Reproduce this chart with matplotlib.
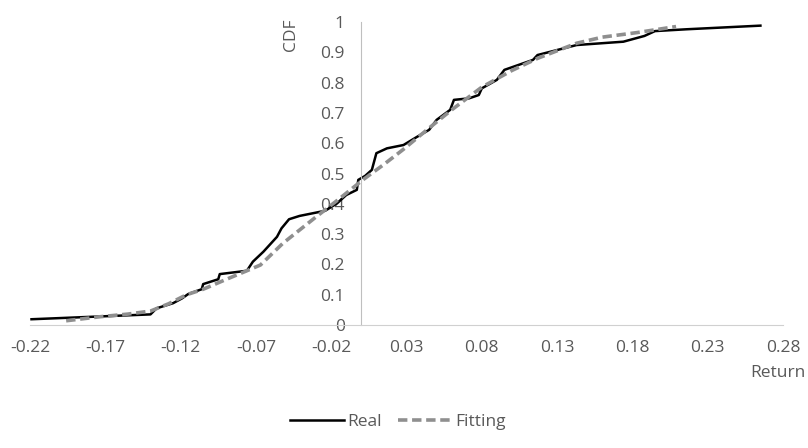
import matplotlib.pyplot as plt

plt.rcParams['font.family'] = ['Open Sans', 'DejaVu Sans']

real_x = [-0.219, -0.140, -0.136, -0.125, -0.119, -0.115, -0.106, -0.105, -0.095, -0.094,
          -0.076, -0.072, -0.065, -0.056, -0.053, -0.048, -0.041, -0.024, -0.016, -0.010,
          -0.003, -0.002, 0.0025, 0.007, 0.010, 0.017, 0.028, 0.037, 0.045, 0.050,
          0.059, 0.0615, 0.0715, 0.078, 0.080, 0.090, 0.095, 0.114, 0.117, 0.143,
          0.174, 0.188, 0.195, 0.216, 0.265]
real_y = [0.019, 0.035, 0.055, 0.072, 0.088, 0.102, 0.118, 0.135, 0.151, 0.168,
          0.179, 0.209, 0.242, 0.291, 0.319, 0.349, 0.360, 0.377, 0.402, 0.429,
          0.446, 0.479, 0.492, 0.512, 0.567, 0.583, 0.594, 0.621, 0.644, 0.677,
          0.710, 0.743, 0.748, 0.759, 0.781, 0.809, 0.842, 0.875, 0.891, 0.924,
          0.935, 0.954, 0.970, 0.976, 0.988]

# Fitted CDF
fit_x = [-0.196, -0.174, -0.155, -0.140, -0.128, -0.116, -0.105, -0.090, -0.076, -0.067,
         -0.052, -0.030, -0.015, 0.001, 0.015, 0.028, 0.045, 0.060, 0.080, 0.100,
         0.117, 0.130, 0.143, 0.160, 0.183, 0.209]
fit_y = [0.014, 0.027, 0.036, 0.046, 0.070, 0.100, 0.118, 0.150, 0.179, 0.198,
         0.270, 0.357, 0.415, 0.479, 0.530, 0.580, 0.650, 0.710, 0.785, 0.840,
         0.880, 0.905, 0.930, 0.950, 0.965, 0.985]

x_ticks = [-0.22, -0.17, -0.12, -0.07, -0.02, 0.03, 0.08, 0.13, 0.18, 0.23, 0.28]
y_ticks = [0, 0.1, 0.2, 0.3, 0.4, 0.5, 0.6, 0.7, 0.8, 0.9, 1]

text_color = '#595959'
fs = 12.5

fig = plt.figure(figsize=(8.08, 4.48), dpi=100)
ax = fig.add_axes([30 / 808, 123 / 448, 753 / 808, 303 / 448])

ax.plot(real_x, real_y, color='black', lw=1.8, label='Real')
ax.plot(fit_x, fit_y, color='#8f8f8f', lw=2.6, dashes=(2.6, 1.3), label='Fitting')

ax.set_xlim(-0.22, 0.28)
ax.set_ylim(0, 1)
ax.set_xticks(x_ticks)
ax.set_xticklabels([f'{v:g}' for v in x_ticks])
ax.set_yticks(y_ticks)
ax.set_yticklabels([f'{v:g}' for v in y_ticks])

for s in ['top', 'right']:
    ax.spines[s].set_visible(False)
ax.spines['left'].set_position(('data', 0))
ax.spines['left'].set_color('#bfbfbf')
ax.spines['bottom'].set_color('#d0d0d0')
ax.tick_params(axis='both', length=0, labelsize=fs, colors=text_color)
ax.tick_params(axis='y', pad=12)
ax.tick_params(axis='x', pad=11)

fig.text(291 / 808, 1 - 35 / 448, 'CDF', rotation=90, ha='center', va='center',
         fontsize=fs, color=text_color)
fig.text(806 / 808, 1 - 373 / 448, 'Return', ha='right', va='center',
         fontsize=fs, color=text_color)

fig.legend(loc='center', bbox_to_anchor=(398 / 808, 1 - 422 / 448), ncol=2,
           frameon=False, fontsize=fs, handlelength=3.1, columnspacing=0.9,
           handletextpad=0.2, labelcolor=text_color)

fig.savefig('out.png', dpi=100)
